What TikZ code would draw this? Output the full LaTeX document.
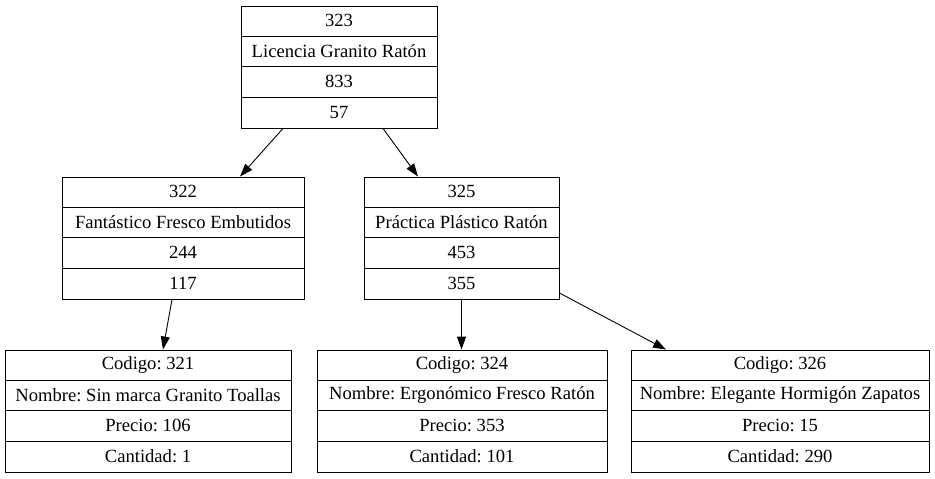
\documentclass[tikz,border=0pt]{standalone}
\usepackage{fontspec}
\setmainfont{Liberation Serif}
\usetikzlibrary{arrows.meta}
\frenchspacing
\newcommand{\recnode}[8]{%
  \node[recbox,minimum width=#4pt] (#1) at (#2,#3) {};
  \foreach \k in {1,2,3} {\draw[recline] ([yshift=-30.5*\k pt]#1.north west) -- ([yshift=-30.5*\k pt]#1.north east);}
  \node[rectxt] (#1-1) at ([yshift=-15.25pt]#1.north) {#5};
  \node[rectxt] (#1-2) at ([yshift=-45.75pt]#1.north) {#6};
  \node[rectxt] (#1-3) at ([yshift=-76.25pt]#1.north) {#7};
  \node[rectxt] (#1-4) at ([yshift=-106.75pt]#1.north) {#8};
}
\begin{document}
\begin{tikzpicture}[x=1pt,y=-1pt,
  recbox/.style={draw=black,line width=0.9pt,minimum height=122pt,inner sep=0pt},
  recline/.style={line width=0.9pt},
  rectxt/.style={font=\fontsize{18.6}{21}\selectfont,inner sep=0pt},
  conn/.style={line width=0.9pt,-{Triangle[length=13pt,width=9pt]}}]
\useasboundingbox (0,0) rectangle (935,479);
\recnode{t}{339}{67}{196}{323}{Licencia Granito Ratón}{833}{57}
\recnode{l}{183}{238}{242}{322}{Fantástico Fresco Embutidos}{244}{117}
\recnode{r}{461.5}{238}{195}{325}{Práctica Plástico Ratón}{453}{355}
\recnode{bl}{148}{411}{286}{Codigo: 321}{Nombre: Sin marca Granito Toallas}{Precio: 106}{Cantidad: 1}
\recnode{bm}{462}{411}{290}{Codigo: 324}{Nombre: Ergonómico Fresco Ratón}{Precio: 353}{Cantidad: 101}
\recnode{br}{780}{411}{298}{Codigo: 326}{Nombre: Elegante Hormigón Zapatos}{Precio: 15}{Cantidad: 290}
\draw[conn] ([xshift=-56pt]t.south) -- ([xshift=57pt]l.north);
\draw[conn] ([xshift=44pt]t.south) -- ([xshift=-43.5pt]r.north);
\draw[conn] ([xshift=-11pt]l.south) -- ([xshift=15pt]bl.north);
\draw[conn] (r.south) -- ([xshift=-0.5pt]bm.north);
\draw[conn] ([yshift=-55pt]r.east) -- ([xshift=-114pt]br.north);
\end{tikzpicture}
\end{document}
